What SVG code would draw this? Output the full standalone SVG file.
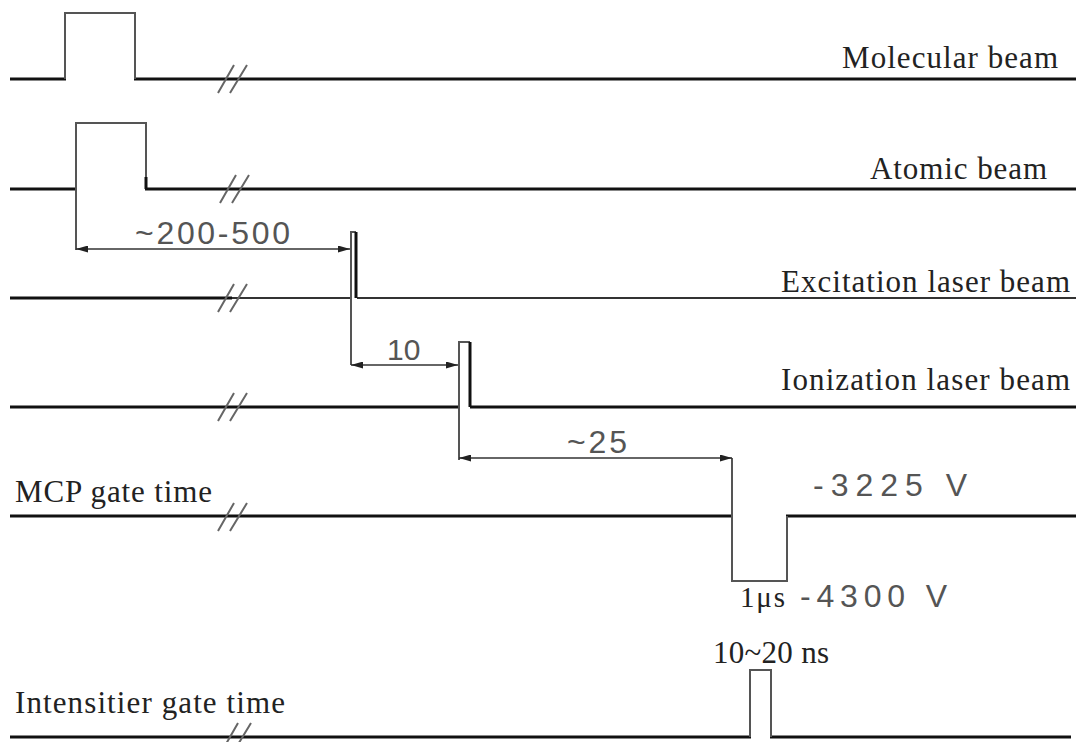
<svg xmlns="http://www.w3.org/2000/svg" width="1081" height="742" viewBox="0 0 1081 742">
<style>
.base{stroke:#111;stroke-width:3;fill:none}
.thin{stroke:#333;stroke-width:1.8;fill:none}
.pulse{stroke:#555;stroke-width:2;fill:none}
.edge{stroke:#111;stroke-width:3;fill:none}
.brk{stroke:#666;stroke-width:2;fill:none}
.dim{stroke:#333;stroke-width:1.5;fill:none;marker-start:url(#arr);marker-end:url(#arr)}
.lbl{font-family:"Liberation Serif","Times New Roman",serif;font-size:31px;fill:#222}
.cad{font-family:"Liberation Sans",Arial,sans-serif;font-size:32px;fill:#555}
</style>
<defs>
<marker id="arr" viewBox="0 0 12 7" refX="12" refY="3.5" markerWidth="12" markerHeight="7" markerUnits="userSpaceOnUse" orient="auto-start-reverse">
<path d="M0,0 L12,3.5 L0,7 z" fill="#222"/>
</marker>
<g id="brkmark">
<path class="brk" d="M-7,14 L9,-14 M5,14 L22,-14"/>
</g>
</defs>
<rect width="1081" height="742" fill="#fff"/>

<g id="molecular-beam">
<path class="base" d="M10,79 H66 M134,79 H1076"/>
<path class="pulse" d="M65,79 V13 H135 V79"/>
<use href="#brkmark" x="225" y="79"/>
<text class="lbl" x="842" y="68" textLength="216" lengthAdjust="spacing">Molecular beam</text>
</g>

<g id="atomic-beam">
<path class="base" d="M10,189 H77 M145,189 H1076"/>
<path class="pulse" d="M76,250 V123 H146 V189"/>
<path class="edge" d="M146,177 V189"/>
<use href="#brkmark" x="227" y="189"/>
<text class="lbl" x="870" y="179" textLength="177" lengthAdjust="spacing">Atomic beam</text>
</g>

<g id="excitation-laser-beam">
<path class="base" d="M10,298 H232"/>
<path class="thin" d="M232,298 H350 M357,298 H1076"/>
<path class="pulse" d="M351,365 V232 H356"/>
<path class="edge" d="M356,232 V298"/>
<use href="#brkmark" x="225" y="298"/>
<text class="lbl" x="781" y="292" textLength="289" lengthAdjust="spacing">Excitation laser beam</text>
</g>

<g id="ionization-laser-beam">
<path class="base" d="M10,407 H460 M470,407 H1076"/>
<path class="pulse" d="M459,460 V342 H470"/>
<path class="edge" d="M470,342 V407"/>
<use href="#brkmark" x="225" y="407"/>
<text class="lbl" x="781" y="390" textLength="289" lengthAdjust="spacing">Ionization laser beam</text>
</g>

<g id="mcp-gate-time">
<path class="base" d="M10,516 H733 M786,516 H1076"/>
<path class="pulse" d="M732,458 V581 H787 V516"/>
<use href="#brkmark" x="225" y="517"/>
<text class="lbl" x="15" y="502" textLength="197" lengthAdjust="spacing">MCP gate time</text>
<text class="cad" x="813" y="496" textLength="154" lengthAdjust="spacing">-3225  V</text>
<text class="lbl" x="740" y="607" textLength="45" lengthAdjust="spacing" style="font-size:29px">1μs</text>
<text class="cad" x="800" y="607" textLength="147" lengthAdjust="spacing">-4300  V</text>
</g>

<g id="intensifier-gate-time">
<path class="base" d="M10,737 H751 M770,737 H1071"/>
<path class="pulse" d="M750,737 V670 H771 V737"/>
<use href="#brkmark" x="229" y="737"/>
<text class="lbl" x="15" y="713" textLength="270" lengthAdjust="spacing">Intensitier gate time</text>
<text class="lbl" x="713" y="663" textLength="116" lengthAdjust="spacing">10~20 ns</text>
</g>

<g id="connectors">
<path class="dim" d="M76,249 H350"/>
<text class="cad" x="135" y="244" textLength="155" lengthAdjust="spacing">~200-500</text>
<path class="dim" d="M351,365 H458"/>
<text class="cad" x="387" y="360" style="font-size:30px">10</text>
<path class="dim" d="M459,458 H732"/>
<text class="cad" x="567" y="453" textLength="60" lengthAdjust="spacing">~25</text>
</g>
</svg>
